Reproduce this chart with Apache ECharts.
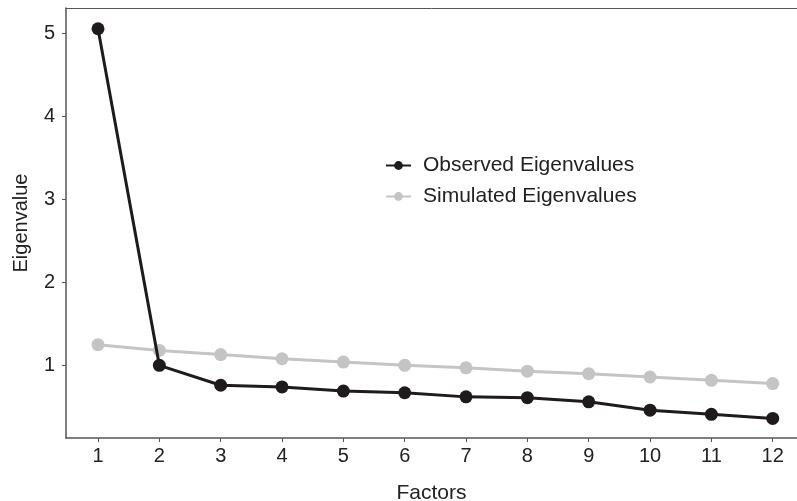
<!DOCTYPE html>
<html>
<head>
<meta charset="utf-8">
<script src="https://cdn.jsdelivr.net/npm/echarts@6/dist/echarts.min.js"></script>
<style>
  html, body { margin: 0; padding: 0; background: #fff; }
  #chart { width: 797px; height: 501px; }
</style>
</head>
<body>
<div id="chart"></div>
<script>
// scree plot: observed vs simulated eigenvalues
var factors = [1, 2, 3, 4, 5, 6, 7, 8, 9, 10, 11, 12];
var observed = [5.06, 1.00, 0.76, 0.74, 0.69, 0.67, 0.62, 0.61, 0.56, 0.46, 0.41, 0.36];
var simulated = [1.25, 1.18, 1.13, 1.08, 1.04, 1.00, 0.97, 0.93, 0.90, 0.86, 0.82, 0.78];
var yTicks = [1, 2, 3, 4, 5];

var chart = echarts.init(document.getElementById('chart'), null, { renderer: 'canvas' });

function pairs(vals) {
  return factors.map(function (f, i) { return [f, vals[i]]; });
}

var axisCol = '#555';
var textCol = '#222';
var font = 'Liberation Sans, Arial, sans-serif';

var option = {
  animation: false,
  grid: { left: 66, top: 8, right: 0, bottom: 63, outerBoundsMode: 'none' },
  legend: {
    orient: 'vertical',
    left: 380, top: 150,
    itemWidth: 25, itemHeight: 11, itemGap: 10,
    textStyle: { fontSize: 21, color: textCol, fontFamily: font, padding: [0, 0, 0, 7] },
    data: ['Observed Eigenvalues', 'Simulated Eigenvalues']
  },
  xAxis: [{
    type: 'value',
    min: 0.478, max: 12.396,
    name: 'Factors',
    nameLocation: 'middle',
    nameGap: 45,
    nameTextStyle: { fontSize: 21, color: textCol, fontFamily: font },
    splitLine: { show: false },
    axisLine: { lineStyle: { color: axisCol, width: 1.5 } },
    axisTick: { customValues: factors, length: 4, lineStyle: { color: axisCol } },
    axisLabel: { customValues: factors, fontSize: 20, color: textCol, fontFamily: font, margin: 8 }
  }, {
    // top border of the panel
    type: 'value',
    position: 'top',
    min: 0.478, max: 12.396,
    splitLine: { show: false },
    axisLine: { show: true, lineStyle: { color: axisCol, width: 1 } },
    axisTick: { show: false },
    axisLabel: { show: false }
  }],
  yAxis: {
    type: 'value',
    min: 0.124, max: 5.31,
    name: 'Eigenvalue',
    nameLocation: 'middle',
    nameGap: 35,
    nameTextStyle: { fontSize: 20, color: textCol, fontFamily: font },
    splitLine: { show: false },
    axisLine: { show: true, lineStyle: { color: axisCol, width: 1.5 } },
    axisTick: { show: true, customValues: yTicks, length: 4, lineStyle: { color: axisCol } },
    axisLabel: { customValues: yTicks, fontSize: 20, color: textCol, fontFamily: font, margin: 11 }
  },
  series: [
    {
      name: 'Simulated Eigenvalues',
      type: 'line',
      data: pairs(simulated),
      symbol: 'circle', symbolSize: 13,
      lineStyle: { color: '#c4c4c4', width: 3 },
      itemStyle: { color: '#c4c4c4' },
      z: 2
    },
    {
      name: 'Observed Eigenvalues',
      type: 'line',
      data: pairs(observed),
      symbol: 'circle', symbolSize: 13,
      lineStyle: { color: '#1f1b1c', width: 3 },
      itemStyle: { color: '#1f1b1c' },
      z: 3
    }
  ]
};

chart.setOption(option);
</script>
</body>
</html>
